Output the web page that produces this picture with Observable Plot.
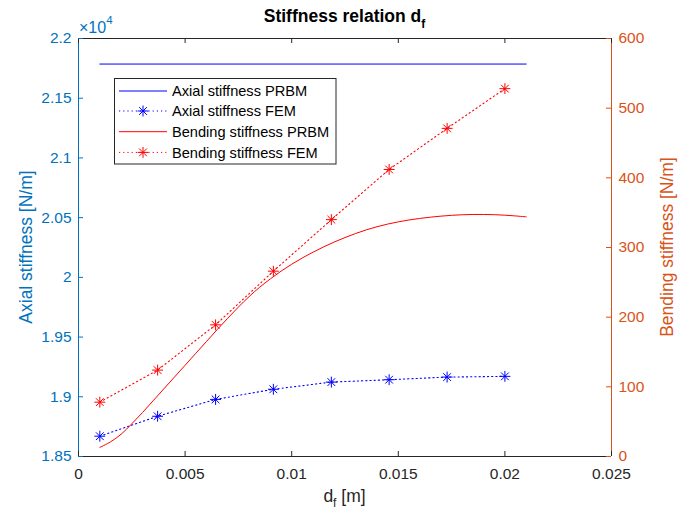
<!DOCTYPE html>
<html><head><meta charset="utf-8">
<script src="https://cdn.jsdelivr.net/npm/d3@7"></script>
<script src="https://cdn.jsdelivr.net/npm/@observablehq/plot@0.6"></script>
<style>body{margin:0;background:#fff}</style>
</head><body><div id="chart"></div>
<script>
// ---- data ----
const xTicks = [0, 0.005, 0.01, 0.015, 0.02, 0.025];
const leftTicks = [18500, 19000, 19500, 20000, 20500, 21000, 21500, 22000];
const rightTicks = [0, 100, 200, 300, 400, 500, 600];
const xFEM = [0.001, 0.00371, 0.00643, 0.00914, 0.01186, 0.01457, 0.01729, 0.02];
const axialFEM = [18670, 18837, 18978, 19063, 19123, 19143, 19165, 19171];
const bendingFEM = [78, 124, 189, 266, 340, 412, 471, 528];
const xAxialPRBM = [0.001, 0.021];
const axialPRBM = [21786, 21786];
const xBendPRBM = [0.001, 0.0015, 0.002, 0.0025, 0.003, 0.0035, 0.004, 0.0045, 0.005, 0.0055, 0.006, 0.0065, 0.007, 0.0075, 0.008, 0.0085, 0.009, 0.0095, 0.01, 0.0105, 0.011, 0.0115, 0.012, 0.0125, 0.013, 0.0135, 0.014, 0.0145, 0.015, 0.0155, 0.016, 0.0165, 0.017, 0.0175, 0.018, 0.0185, 0.019, 0.0195, 0.02, 0.0205, 0.021];
const bendingPRBM = [13, 21, 32, 47, 63, 80, 97, 114, 131, 148, 165, 182, 198.5, 214.5, 229.5, 243, 255, 266, 276, 285, 293.3, 300.9, 307.9, 314.3, 320.1, 325.3, 329.8, 333.6, 336.8, 339.5, 341.7, 343.5, 345, 346.2, 347, 347.4, 347.4, 347.1, 346.4, 345.3, 344];
const seriesNames = ["Axial stiffness PRBM", "Axial stiffness FEM", "Bending stiffness PRBM", "Bending stiffness FEM"];
const seriesColors = ["#0000ff", "#0000ff", "#ff0000", "#ff0000"];
const seriesDotted = [false, true, false, true];
const seriesMarker = [false, true, false, true];

// ---- scales mapping right axis onto left ----
const L0 = 18500, L1 = 22000, R0 = 0, R1 = 600;
const toLeft = v => L0 + (v - R0) / (R1 - R0) * (L1 - L0);
const fromLeft = y => R0 + (y - L0) / (L1 - L0) * (R1 - R0);

const W = 688, H = 513, mL = 78, mR = 77, mT = 38, mB = 57;
const iW = W - mL - mR, iH = H - mT - mB;
const BLUE_AX = "#0072BD", ORANGE_AX = "#D95319", GRAY = "#262626";
const DASH = "1.2,3";

const axialFEMData = xFEM.map((x, i) => ({x, y: axialFEM[i]}));
const bendFEMData = xFEM.map((x, i) => ({x, y: toLeft(bendingFEM[i])}));
const axialPRBMData = xAxialPRBM.map((x, i) => ({x, y: axialPRBM[i]}));
const bendPRBMData = xBendPRBM.map((x, i) => ({x, y: toLeft(bendingPRBM[i])}));

const fmtX = d => d === 0 ? "0" : String(+d.toFixed(3));
const fmtL = d => String(+(d / 1e4).toFixed(2));
const fmtR = d => String(Math.round(fromLeft(d)));

const plot = Plot.plot({
  width: W, height: H,
  marginLeft: mL, marginRight: mR, marginTop: mT, marginBottom: mB,
  style: {fontFamily: "'Liberation Sans', Arial, Helvetica, sans-serif", fontSize: "15.5px", background: "#fff"},
  x: {domain: [0, 0.025]},
  y: {domain: [L0, L1]},
  marks: [
    // data
    Plot.line(axialPRBMData, {x: "x", y: "y", stroke: seriesColors[0], strokeWidth: 1}),
    Plot.line(axialFEMData, {x: "x", y: "y", stroke: seriesColors[1], strokeWidth: 1.1, strokeDasharray: DASH}),
    Plot.line(bendPRBMData, {x: "x", y: "y", stroke: seriesColors[2], strokeWidth: 1, curve: "catmull-rom"}),
    Plot.line(bendFEMData, {x: "x", y: "y", stroke: seriesColors[3], strokeWidth: 1.1, strokeDasharray: DASH}),
    Plot.dot(axialFEMData, {x: "x", y: "y", symbol: "plus", r: 3.6, stroke: seriesColors[1], strokeWidth: 1}),
    Plot.dot(axialFEMData, {x: "x", y: "y", symbol: "times", r: 3.6, stroke: seriesColors[1], strokeWidth: 1}),
    Plot.dot(bendFEMData, {x: "x", y: "y", symbol: "plus", r: 3.6, stroke: seriesColors[3], strokeWidth: 1}),
    Plot.dot(bendFEMData, {x: "x", y: "y", symbol: "times", r: 3.6, stroke: seriesColors[3], strokeWidth: 1}),
    // box lines
    Plot.ruleY([L0, L1], {stroke: GRAY, strokeWidth: 1}),
    Plot.ruleX([0], {stroke: BLUE_AX, strokeWidth: 1}),
    Plot.ruleX([0.025], {stroke: ORANGE_AX, strokeWidth: 1}),
    // inward ticks
    Plot.tickX(xTicks, {x: d => d, insetTop: iH - 5, stroke: GRAY}),
    Plot.tickX(xTicks, {x: d => d, insetBottom: iH - 5, stroke: GRAY}),
    Plot.tickY(leftTicks, {y: d => d, insetRight: iW - 5, stroke: BLUE_AX}),
    Plot.tickY(rightTicks.map(toLeft), {y: d => d, insetLeft: iW - 5, stroke: ORANGE_AX}),
    // tick labels
    Plot.axisX({ticks: xTicks, tickFormat: fmtX, tickSize: 0, tickPadding: 11, color: GRAY, fontSize: 15.5, label: null}),
    Plot.axisY({anchor: "left", ticks: leftTicks, tickFormat: fmtL, tickSize: 0, tickPadding: 7, color: BLUE_AX, fontSize: 15.5, label: null}),
    Plot.axisY({anchor: "right", ticks: rightTicks.map(toLeft), tickFormat: fmtR, tickSize: 0, tickPadding: 7, color: ORANGE_AX, fontSize: 15.5, label: null})
  ]
});
document.getElementById("chart").appendChild(plot);

const svg = d3.select(plot);
// title
const t = svg.append("text").attr("x", mL + iW / 2).attr("y", 22).attr("text-anchor", "middle")
  .attr("font-weight", "bold").attr("font-size", 17.5).attr("fill", "#000");
t.append("tspan").text("Stiffness relation d");
t.append("tspan").attr("font-size", 12).attr("dy", 6).text("f");
// x10^4
const e = svg.append("text").attr("x", 79).attr("y", 33).attr("text-anchor", "start").attr("font-size", 16).attr("fill", BLUE_AX);
e.append("tspan").text("×10");
e.append("tspan").attr("font-size", 11.5).attr("dy", -9).text("4");
// x label
const xl = svg.append("text").attr("x", mL + iW / 2).attr("y", 502).attr("text-anchor", "middle")
  .attr("font-size", 17.5).attr("fill", GRAY);
xl.append("tspan").text("d");
xl.append("tspan").attr("font-size", 12).attr("dy", 5).text("f");
xl.append("tspan").attr("dy", -5).text(" [m]");
// y labels
svg.append("text").attr("transform", `translate(32,${mT + iH / 2}) rotate(-90)`).attr("text-anchor", "middle")
  .attr("font-size", 17.5).attr("fill", BLUE_AX).text("Axial stiffness [N/m]");
svg.append("text").attr("transform", `translate(673,${mT + iH / 2}) rotate(-90)`).attr("text-anchor", "middle")
  .attr("font-size", 17.5).attr("fill", ORANGE_AX).text("Bending stiffness [N/m]");
// legend
const lg = svg.append("g");
lg.append("rect").attr("x", 114.5).attr("y", 78.5).attr("width", 221.5).attr("height", 85.5)
  .attr("fill", "#fff").attr("stroke", GRAY).attr("stroke-width", 1);
const rowY = [91, 111, 131.7, 152.4];
seriesNames.forEach((name, i) => {
  const y = rowY[i];
  lg.append("line").attr("x1", 119).attr("x2", 167).attr("y1", y).attr("y2", y)
    .attr("stroke", seriesColors[i]).attr("stroke-width", 1)
    .attr("stroke-dasharray", seriesDotted[i] ? DASH : null);
  if (seriesMarker[i]) {
    const size = Math.PI * 3.6 * 3.6;
    [d3.symbolPlus, d3.symbolTimes].forEach(s => {
      lg.append("path").attr("d", d3.symbol(s, size)()).attr("transform", `translate(143,${y})`)
        .attr("fill", "none").attr("stroke", seriesColors[i]).attr("stroke-width", 1);
    });
  }
  lg.append("text").attr("x", 172).attr("y", y).attr("dy", "0.35em").attr("text-anchor", "start")
    .attr("font-size", 14.6).attr("fill", "#000").text(name);
});
</script>
</body></html>
